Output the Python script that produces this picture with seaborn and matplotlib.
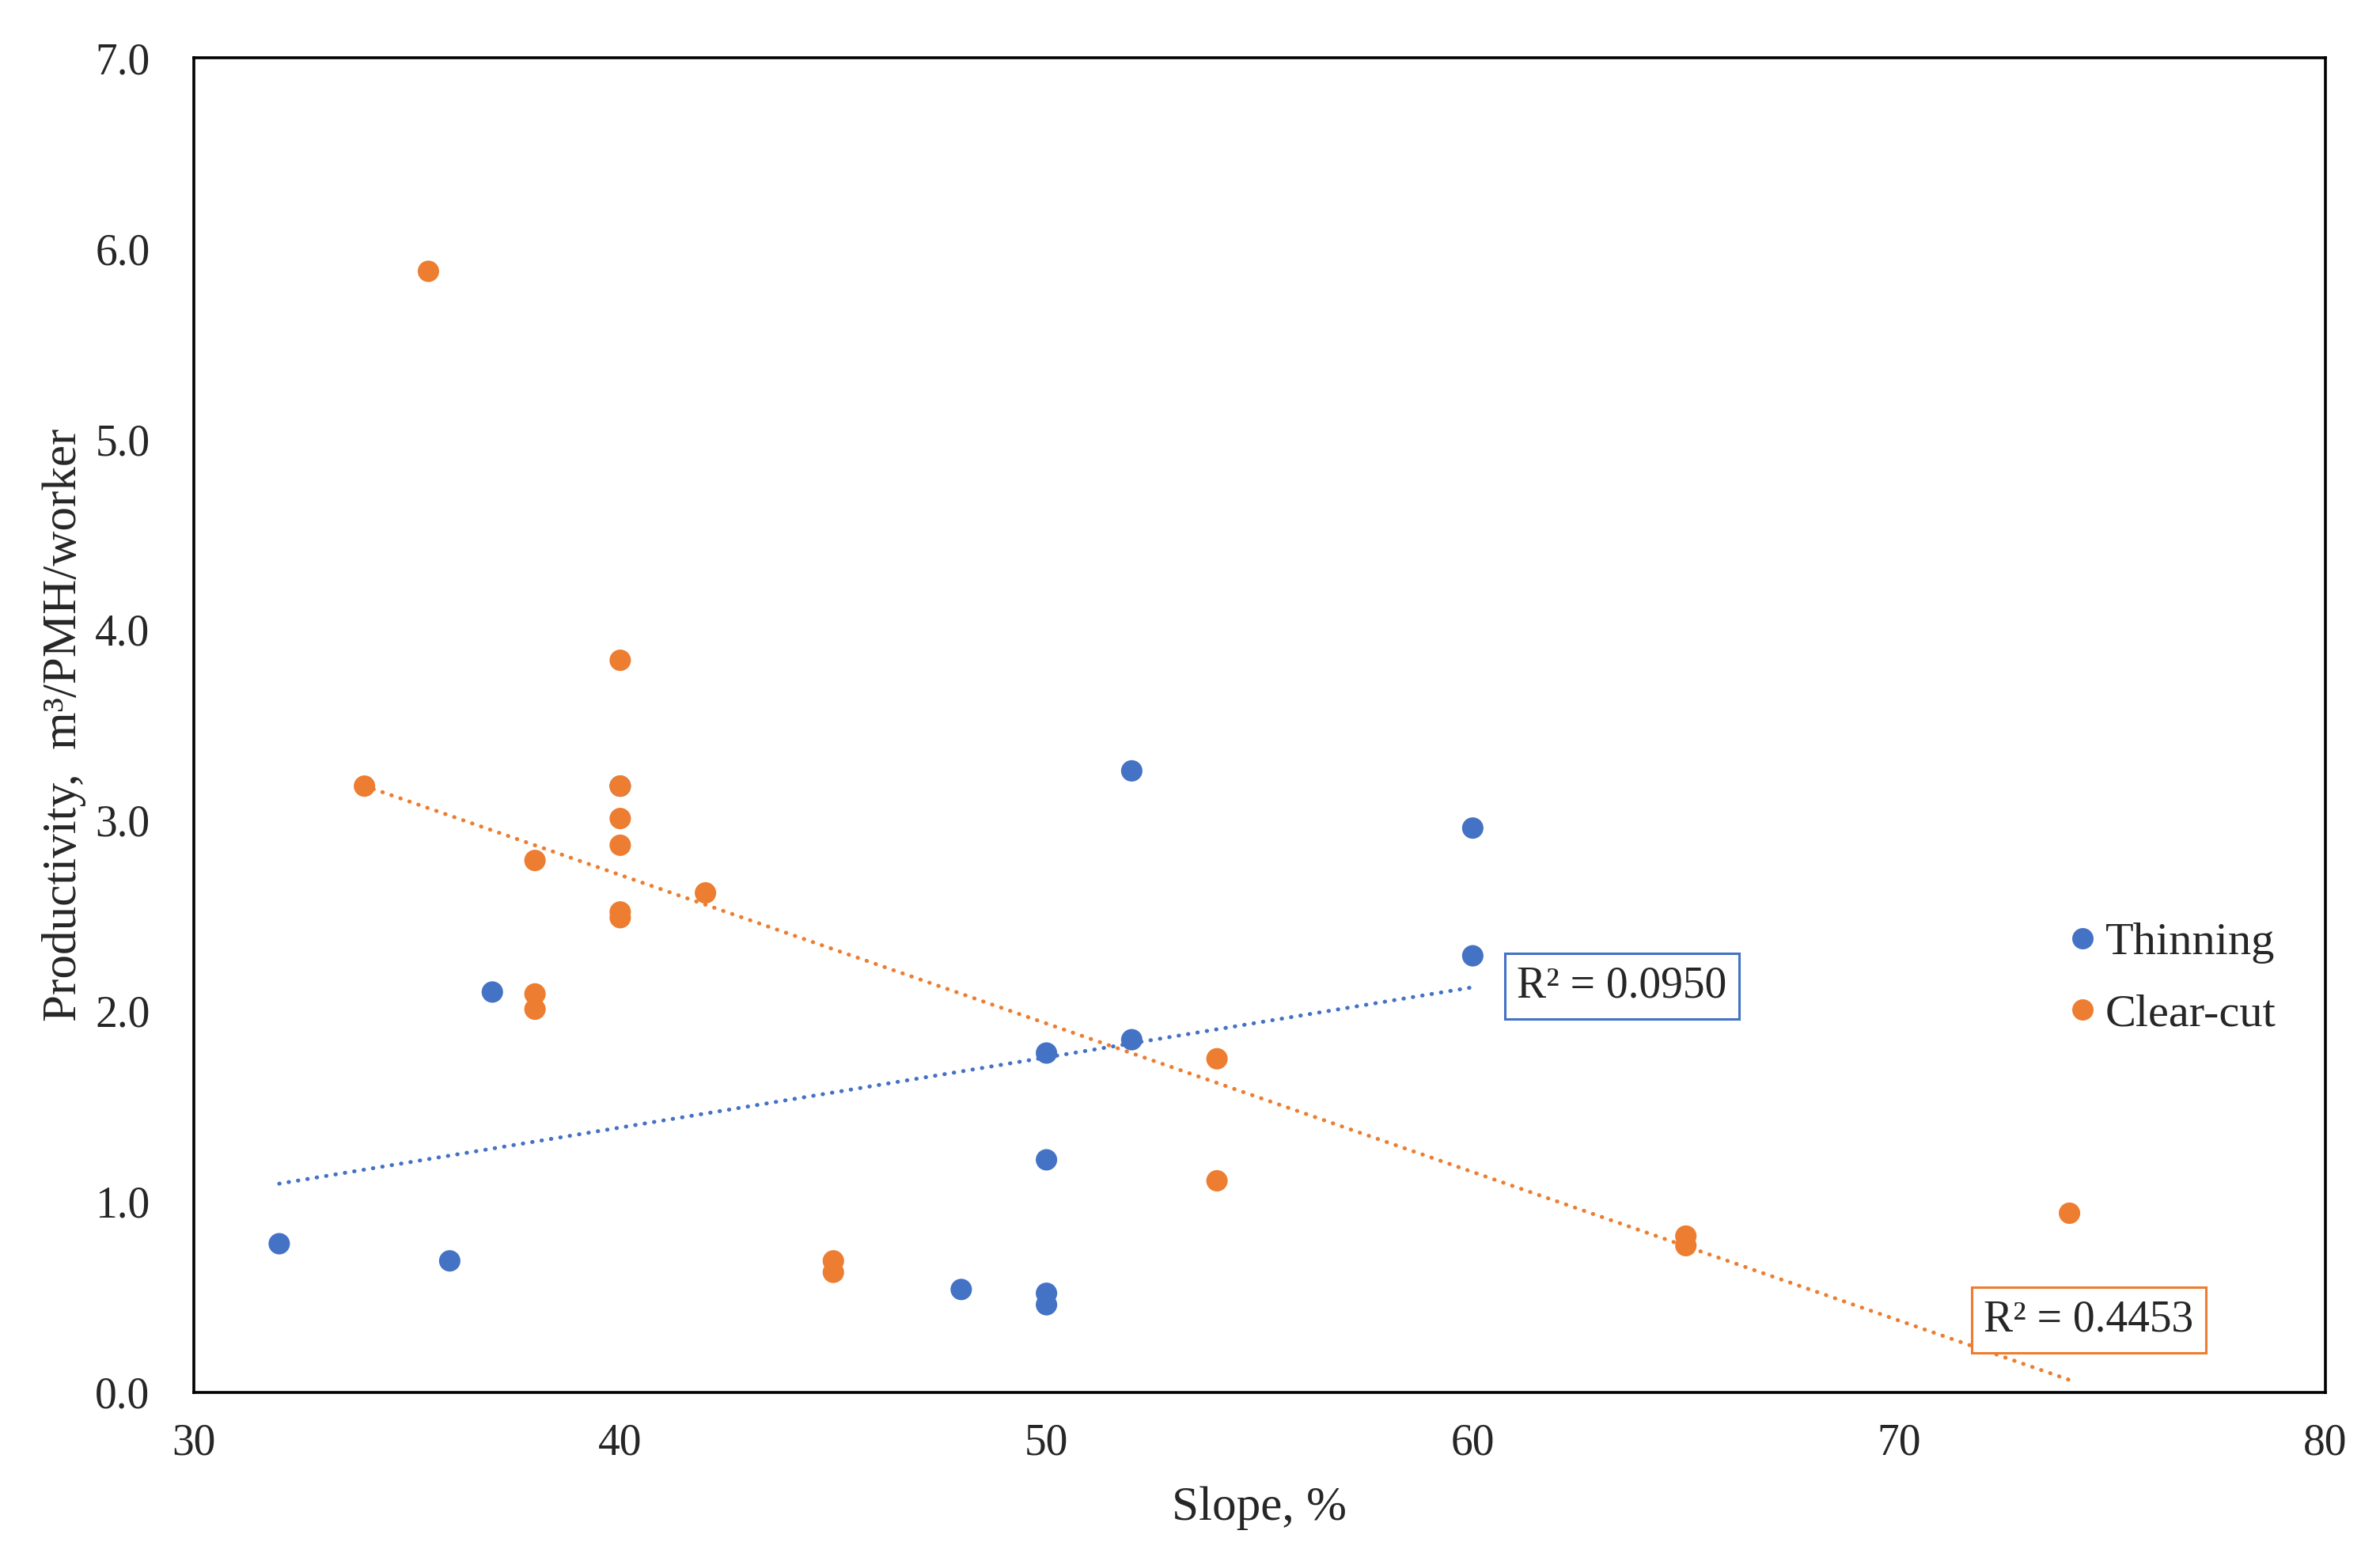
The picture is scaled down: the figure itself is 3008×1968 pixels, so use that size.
import matplotlib
matplotlib.use("Agg")
import matplotlib.pyplot as plt
import numpy as np
import pandas as pd
import seaborn as sns

# Thinning observations (one point at 40 % sits under an orange clear-cut point)
thin_slope = [32, 36, 37, 40, 48, 50, 50, 50, 50, 52, 52, 60, 60]
thin_prod = [0.78, 0.69, 2.10, 3.18, 0.54, 0.52, 0.46, 1.22, 1.78, 1.85, 3.26, 2.96, 2.29]

# Clear-cut observations
clear_slope = [35.5, 34, 38, 38, 38, 40, 40, 40, 40, 40, 40, 42, 45, 45, 54, 54, 65, 65, 74]
clear_prod = [5.88, 3.18, 2.79, 2.09, 2.01, 3.84, 3.18, 3.01, 2.87, 2.52, 2.49, 2.62,
              0.69, 0.63, 1.75, 1.11, 0.82, 0.77, 0.94]

groups = ["Thinning", "Clear-cut"]
r2_labels = ["R\u00b2 = 0.0950", "R\u00b2 = 0.4453"]
r2_pos = [(63.5, 2.13), (74.45, 0.38)]

x_ticks = [30, 40, 50, 60, 70, 80]
y_ticks = [0.0, 1.0, 2.0, 3.0, 4.0, 5.0, 6.0, 7.0]

colors = {"Thinning": "#4472C4", "Clear-cut": "#ED7D31"}

df = pd.DataFrame({
    "slope": thin_slope + clear_slope,
    "prod": thin_prod + clear_prod,
    "group": ["Thinning"] * len(thin_slope) + ["Clear-cut"] * len(clear_slope),
})

sns.set_style("white")
plt.rcParams["font.family"] = ["Liberation Serif", "DejaVu Serif"]

fig = plt.figure(figsize=(15.04, 9.84), dpi=200)
ax = fig.add_axes([0.0815, 0.1057, 0.8955, 0.8572])

# dotted trendlines (linear fit over each group's range)
for g in groups:
    sub = df[df["group"] == g]
    sns.regplot(data=sub, x="slope", y="prod", scatter=False, ci=None, truncate=True,
                color=colors[g], ax=ax,
                line_kws=dict(lw=1.8, linestyle=(0, (0.1, 2.3)), dash_capstyle="round"))

sns.scatterplot(data=df, x="slope", y="prod", hue="group", hue_order=groups,
                palette=colors, s=95, linewidth=0, ax=ax, zorder=3)

for g, lab, (xx, yy) in zip(groups, r2_labels, r2_pos):
    ax.text(xx, yy, lab, fontsize=20, ha="center", va="center",
            bbox=dict(boxstyle="square,pad=0.28", fc="white", ec=colors[g], lw=1.1))

ax.set_xlim(30, 80)
ax.set_ylim(0, 7)
ax.set_xticks(x_ticks)
ax.set_yticks(y_ticks)
ax.set_xticklabels([str(t) for t in x_ticks])
ax.set_yticklabels([f"{t:.1f}" for t in y_ticks])
ax.tick_params(axis="both", length=0, labelsize=20)
ax.tick_params(axis="x", pad=14)
ax.tick_params(axis="y", pad=20)

for sp in ax.spines.values():
    sp.set_visible(True)
    sp.set_color("black")
    sp.set_linewidth(1.3)

ax.set_xlabel("Slope, %", fontsize=22, labelpad=10)
ax.set_ylabel("Productivity,  m\u00b3/PMH/worker", fontsize=22, labelpad=4)

leg = ax.legend(frameon=False, loc="center left", bbox_to_anchor=(0.860, 0.31),
                fontsize=21, handlelength=0.6, handletextpad=0.2, labelspacing=0.65)
for h in leg.legend_handles:
    h.set_markersize(9.7)

fig.savefig("out.png", dpi=200, facecolor="white")
